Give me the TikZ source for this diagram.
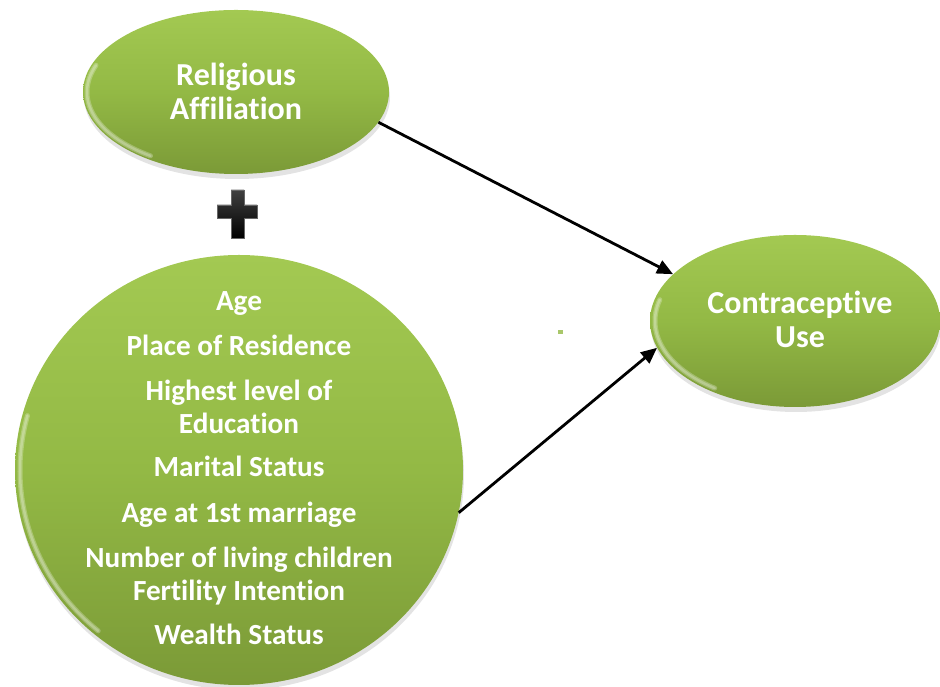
\documentclass[tikz,border=0pt]{standalone}
\usepackage{fontspec}
\setmainfont[Ligatures=NoCommon]{Carlito}
\usetikzlibrary{shapes.geometric,arrows.meta,shadows,calc}

\definecolor{leafTop}{HTML}{A3C952}
\definecolor{leafMid}{HTML}{93B945}
\definecolor{leafBot}{HTML}{7B9A37}

\tikzset{
  x=1pt, y=1pt,
  bubble/.style={ellipse, inner sep=0pt, draw=none,
    top color=leafTop, bottom color=leafBot, middle color=leafMid,
    drop shadow={opacity=0.22, shadow xshift=1pt, shadow yshift=-5pt}},
  label/.style={text=white, font=\bfseries\fontsize{29.2}{33}\selectfont, align=center},
  biglabel/.style={label, font=\bfseries\fontsize{32}{34}\selectfont},
  link/.style={line width=2.8pt, -{Triangle[length=16pt,width=14pt]}},
  rim/.style={white, opacity=0.25, line width=#1, line cap=round},
}

\begin{document}
\begin{tikzpicture}
\useasboundingbox (0,0) rectangle (940,687);

% the three factor bubbles
\node[bubble, minimum width=306pt, minimum height=164pt] (rel) at (236,595) {};
\node[bubble, minimum width=448pt, minimum height=430pt] (vars) at (239,217) {};
\node[bubble, minimum width=290pt, minimum height=172pt] (cu) at (795,366) {};

% soft light rims along the lower left edges
\foreach \w in {5pt,2.5pt}{
  \draw[rim=\w] (rel)  ++(160:149 and 78)  arc[start angle=160, end angle=235, x radius=149, y radius=78];
  \draw[rim=\w] (vars) ++(165:219 and 210) arc[start angle=165, end angle=230, x radius=219, y radius=210];
  \draw[rim=\w] (cu)   ++(165:140 and 82)  arc[start angle=165, end angle=235, x radius=140, y radius=82];
}

% labels
\node[biglabel] (relt) at (236,596) {Religious\\Affiliation};
\node[biglabel] (cut) at (800,368) {Contraceptive\\Use};
\node[label, anchor=north] (varst) at (239,399)
  {Age\\[12pt]
   Place of Residence\\[12pt]
   Highest level of\\
   Education\\[10pt]
   Marital Status\\[13pt]
   Age at 1st marriage\\[12pt]
   Number of living children\\
   Fertility Intention\\[11pt]
   Wealth Status};

% plus sign between the two predictor groups
\fill[top color=black!75, bottom color=black, draw=black!60, line width=0.4pt]
  (231,497) -- (244,497) -- (244,482) -- (257,482) -- (257,469) -- (244,469)
  -- (244,449) -- (231,449) -- (231,469) -- (217,469) -- (217,482) -- (231,482) -- cycle;

% small green speck
\fill[leafMid!80!white] (558,353) rectangle (563,357);

% arrows into the outcome
\draw[link] (rel.-12) -- (cu.159);
\draw[link] (vars.-11) -- (cu.191);
\end{tikzpicture}
\end{document}
